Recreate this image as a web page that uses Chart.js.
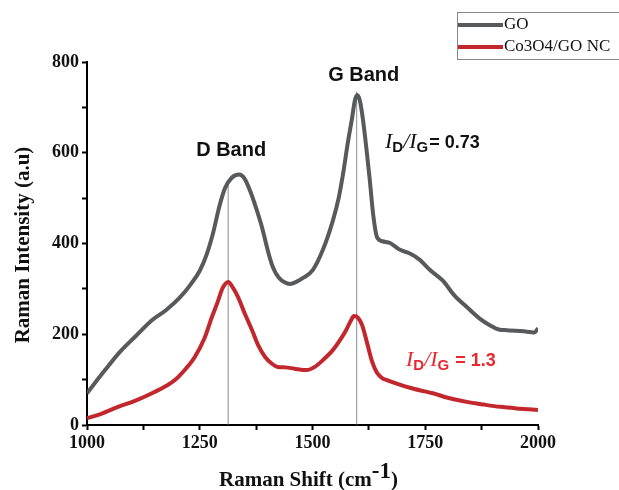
<!DOCTYPE html>
<html>
<head>
<meta charset="utf-8">
<script src="https://cdn.jsdelivr.net/npm/chart.js@4"></script>
<style>
  html, body { margin: 0; padding: 0; background: #fff; }
  #wrap { width: 619px; height: 490px; }
</style>
</head>
<body>
<div id="wrap"><canvas id="myChart" width="619" height="490"></canvas></div>
<script>
// Raman spectra
var goShift = [1000, 1040, 1073, 1106, 1144, 1175, 1205, 1230, 1250, 1265, 1280, 1293, 1306, 1321, 1337, 1350, 1362, 1375, 1388, 1400, 1412, 1425, 1439, 1450, 1465, 1479, 1501, 1523, 1545, 1558, 1568, 1578, 1587, 1594, 1599, 1605, 1612, 1620, 1627, 1635, 1643, 1655, 1672, 1694, 1716, 1738, 1760, 1789, 1815, 1842, 1870, 1893, 1915, 1931, 1960, 1982, 1992, 2000];
var goIntensity = [70, 121, 161, 194, 231, 253, 280, 310, 340, 375, 425, 480, 522, 545, 552, 542, 515, 478, 436, 388, 348, 325, 314, 311, 316, 324, 342, 386, 450, 500, 555, 620, 672, 715, 727, 715, 672, 605, 540, 460, 414, 405, 401, 386, 378, 364, 342, 318, 285, 260, 235, 220, 210, 209, 207, 205, 204, 213];

var ncShift = [1000, 1030, 1069, 1106, 1144, 1175, 1195, 1220, 1239, 1260, 1277, 1290, 1299, 1306, 1313, 1322, 1335, 1350, 1366, 1380, 1395, 1410, 1423, 1440, 1460, 1487, 1505, 1523, 1545, 1561, 1575, 1585, 1592, 1601, 1610, 1621, 1632, 1643, 1655, 1665, 1690, 1716, 1740, 1767, 1800, 1842, 1880, 1916, 1960, 2000];
var ncIntensity = [15, 24, 40, 53, 70, 86, 99, 125, 150, 190, 238, 272, 298, 310, 315, 305, 282, 245, 209, 175, 150, 135, 128, 127, 124, 121, 128, 143, 165, 187, 210, 230, 240, 236, 220, 181, 140, 115, 103, 99, 90, 82, 76, 70, 60, 51, 45, 40, 36, 33];

var seriesNames = ["GO", "Co3O4/GO NC"];
var bandNames = ["D Band", "G Band"];
var bandShift = [1313, 1598];
var bandTop = [530, 735];
var xTicks = [1000, 1250, 1500, 1750, 2000];
var yTicks = [0, 200, 400, 600, 800];

var grey = "#58595b";
var red = "#c1272d";
var serif = "'Liberation Serif', 'Times New Roman', serif";
var sans = "'Liberation Sans', Arial, sans-serif";

function toPoints(xs, ys) {
  return xs.map(function (x, i) { return { x: x, y: ys[i] }; });
}

var bandLines = bandShift.map(function (s, i) {
  return {
    label: bandNames[i],
    data: [{ x: s, y: 0 }, { x: s, y: bandTop[i] }],
    borderColor: "#6d6d6d",
    borderWidth: 0.8,
    pointRadius: 0,
    order: 3,
  };
});

// text, legend and the superscript axis title
var decorations = {
  id: "decorations",
  afterDraw: function (chart) {
    var c = chart.ctx;
    var xs = chart.scales.x;
    c.save();

    // band labels
    c.fillStyle = "#111";
    c.font = "bold 20px " + sans;
    c.textAlign = "center";
    c.textBaseline = "alphabetic";
    c.fillText(bandNames[0], xs.getPixelForValue(bandShift[0]) + 3, 156);
    c.fillText(bandNames[1], xs.getPixelForValue(bandShift[1]) + 7, 81);

    // ratio labels
    function ratio(x, y, value, color, gap) {
      c.fillStyle = color;
      c.textAlign = "left";
      c.font = "italic 22px " + serif;
      c.fillText("I", x, y);
      var w = c.measureText("I").width;
      c.font = "bold 15px " + sans;
      c.fillText("D", x + w, y + 4);
      w += c.measureText("D").width;
      c.font = "italic 22px " + serif;
      c.fillText("/I", x + w, y);
      w += c.measureText("/I").width;
      c.font = "bold 15px " + sans;
      c.fillText("G", x + w, y + 4);
      w += c.measureText("G").width;
      c.font = "bold 18px " + sans;
      c.fillText(gap + value, x + w + 1, y);
    }
    ratio(385, 148, "0.73", "#111", "= ");
    ratio(406, 366, "1.3", "#e8282e", " = ");

    // axis titles
    c.fillStyle = "#111";
    c.font = "bold 21px " + serif;
    c.textAlign = "left";
    var t = "Raman Shift (cm";
    var tw = c.measureText(t).width;
    c.font = "bold 23px " + serif;
    var sw = c.measureText("-1").width;
    c.font = "bold 21px " + serif;
    var cw = c.measureText(")").width;
    var x0 = (chart.chartArea.left + chart.chartArea.right) / 2 - (tw + sw + cw) / 2 - 4;
    c.fillText(t, x0, 486);
    c.font = "bold 23px " + serif;
    c.fillText("-1", x0 + tw, 478);
    c.font = "bold 21px " + serif;
    c.fillText(")", x0 + tw + sw, 486);

    c.translate(29, 245);
    c.rotate(-Math.PI / 2);
    c.textAlign = "center";
    c.fillText("Raman Intensity (a.u)", 0, 0);
    c.restore();

    // legend box
    c.save();
    c.strokeStyle = "#888";
    c.lineWidth = 1;
    c.strokeRect(457.5, 12.5, 170, 47);
    c.lineWidth = 4;
    c.strokeStyle = grey;
    c.beginPath(); c.moveTo(458, 25); c.lineTo(503, 25); c.stroke();
    c.strokeStyle = red;
    c.beginPath(); c.moveTo(458, 47); c.lineTo(503, 47); c.stroke();
    c.fillStyle = "#111";
    c.font = "17px " + serif;
    c.textAlign = "left";
    c.textBaseline = "middle";
    c.fillText(seriesNames[0], 504, 25);
    c.fillText(seriesNames[1], 504, 47);
    c.restore();
  },
};

var ctx = document.getElementById("myChart").getContext("2d");
var ramanChart = new Chart(ctx, {
  type: "line",
  data: {
    datasets: [
      {
        label: seriesNames[0],
        data: toPoints(goShift, goIntensity),
        borderColor: grey,
        borderWidth: 4,
        pointRadius: 0,
        cubicInterpolationMode: "monotone",
        order: 1,
      },
      {
        label: seriesNames[1],
        data: toPoints(ncShift, ncIntensity),
        borderColor: red,
        borderWidth: 4,
        pointRadius: 0,
        cubicInterpolationMode: "monotone",
        order: 2,
      },
    ].concat(bandLines),
  },
  options: {
    responsive: false,
    animation: false,
    layout: { padding: { top: 62, right: 81, left: 0, bottom: 0 } },
    plugins: { legend: { display: false }, tooltip: { enabled: false } },
    scales: {
      x: {
        type: "linear",
        min: 1000,
        max: 2000,
        afterFit: function (scale) { scale.height = 65; },
        afterBuildTicks: function (scale) {
          var t = [];
          for (var v = 1000; v <= 2000; v += 125) t.push({ value: v });
          scale.ticks = t;
        },
        ticks: {
          autoSkip: false,
          maxRotation: 0,
          padding: 3,
          color: "#111",
          font: { family: serif, size: 18, weight: "bold" },
          callback: function (v) { return xTicks.indexOf(v) >= 0 ? String(v) : ""; },
        },
        grid: { drawOnChartArea: false, color: "#000", tickLength: 5, tickWidth: 2 },
        border: { color: "#000", width: 2 },
      },
      y: {
        min: 0,
        max: 800,
        afterFit: function (scale) { scale.width = 87; },
        afterBuildTicks: function (scale) {
          var t = [];
          for (var v = 0; v <= 800; v += 100) t.push({ value: v });
          scale.ticks = t;
        },
        ticks: {
          autoSkip: false,
          padding: 3,
          color: "#111",
          font: { family: serif, size: 18, weight: "bold" },
          callback: function (v) { return yTicks.indexOf(v) >= 0 ? String(v) : ""; },
        },
        grid: { drawOnChartArea: false, color: "#000", tickLength: 5, tickWidth: 2 },
        border: { color: "#000", width: 2 },
      },
    },
  },
  plugins: [decorations],
});
</script>
</body>
</html>
